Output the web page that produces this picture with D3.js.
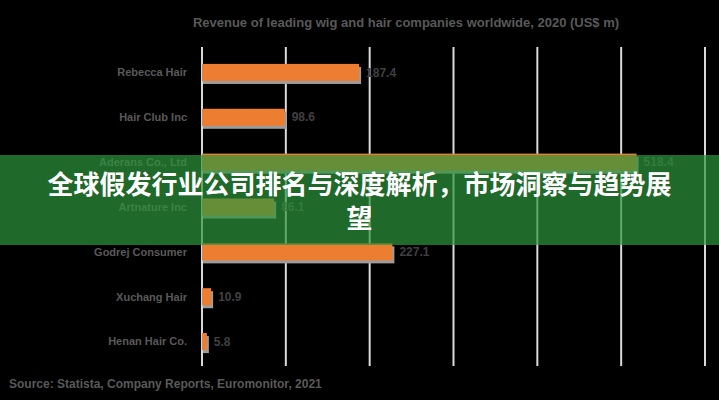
<!DOCTYPE html>
<html>
<head>
<meta charset="utf-8">
<script src="https://cdn.jsdelivr.net/npm/d3@7"></script>
<style>
  html, body { margin: 0; padding: 0; background: #000; }
  svg { display: block; }
</style>
</head>
<body>
<svg id="chart" width="719" height="400"></svg>
<script>
const categories = ["Rebecca Hair", "Hair Club Inc", "Aderans Co., Ltd", "Artnature Inc", "Godrej Consumer", "Xuchang Hair", "Henan Hair Co."];
const values = [187.4, 98.6, 518.4, 86.1, 227.1, 10.9, 5.8];
const xTicks = [0, 100, 200, 300, 400, 500, 600];
const titleText = "Revenue of leading wig and hair companies worldwide, 2020 (US$ m)";
const sourceText = "Source: Statista, Company Reports, Euromonitor, 2021";
const bannerLines = ["全球假发行业公司排名与深度解析，市场洞察与趋势展", "望"];

const svg = d3.select("#chart");
const W = 719, H = 400;
svg.append("rect").attr("width", W).attr("height", H).attr("fill", "#000");

const x = d3.scaleLinear().domain([0, 600]).range([202, 705]);
const y = d3.scaleBand().domain(categories).range([50, 364]).paddingInner(0.62).paddingOuter(0.31);

// gridlines
svg.append("g").selectAll("line").data(xTicks).join("line")
  .attr("x1", d => x(d)).attr("x2", d => x(d))
  .attr("y1", 47).attr("y2", 366)
  .attr("stroke", "#d9d9d9").attr("stroke-width", 2);

// title
svg.append("text").attr("x", 406).attr("y", 27)
  .attr("text-anchor", "middle")
  .attr("font-family", "Liberation Sans, Arial, sans-serif")
  .attr("font-size", 13).attr("font-weight", "bold")
  .attr("fill", "#595959").text(titleText);

// bar shadows
svg.append("g").selectAll("rect").data(values).join("rect")
  .attr("x", x(0) + 1)
  .attr("y", (d, i) => y(categories[i]) + 3)
  .attr("width", d => x(d) - x(0) + 1)
  .attr("height", y.bandwidth())
  .attr("fill", "#9c9c9c");

// bars
svg.append("g").selectAll("rect").data(values).join("rect")
  .attr("x", x(0))
  .attr("y", (d, i) => y(categories[i]))
  .attr("width", d => x(d) - x(0))
  .attr("height", y.bandwidth())
  .attr("fill", "#ED7D31");

// category labels
svg.append("g").selectAll("text").data(categories).join("text")
  .attr("x", 187)
  .attr("y", d => y(d) + y.bandwidth() / 2)
  .attr("dy", "0.35em")
  .attr("text-anchor", "end")
  .attr("font-family", "Liberation Sans, Arial, sans-serif")
  .attr("font-size", 11).attr("font-weight", "bold")
  .attr("fill", "#595959").text(d => d);

// value labels
svg.append("g").selectAll("text").data(values).join("text")
  .attr("x", d => x(d) + 7)
  .attr("y", (d, i) => y(categories[i]) + y.bandwidth() / 2)
  .attr("dy", "0.35em")
  .attr("font-family", "Liberation Sans, Arial, sans-serif")
  .attr("font-size", 12).attr("font-weight", "bold")
  .attr("fill", "#404040").text(d => d3.format(".1f")(d));

// source
svg.append("text").attr("x", 9).attr("y", 388)
  .attr("font-family", "Liberation Sans, Arial, sans-serif")
  .attr("font-size", 12).attr("font-weight", "bold")
  .attr("fill", "#595959").text(sourceText);

// banner overlay
svg.append("rect").attr("x", 0).attr("y", 155).attr("width", W).attr("height", 90)
  .attr("fill", "rgb(44,150,60)").attr("fill-opacity", 0.7);

const fs = 26;
const bannerText = svg.append("g").selectAll("text").data(bannerLines).join("text")
  .attr("y", (d, i) => 194 + i * 34)
  .attr("font-family", "Noto Sans CJK SC")
  .attr("font-size", fs).attr("font-weight", "bold")
  .attr("fill", "#fff");
bannerText.each(function(line) {
  const startX = (W - line.length * fs) / 2;
  d3.select(this).selectAll("tspan").data(Array.from(line)).join("tspan")
    .attr("x", (c, i) => startX + i * fs)
    .text(c => c);
});
</script>
</body>
</html>
